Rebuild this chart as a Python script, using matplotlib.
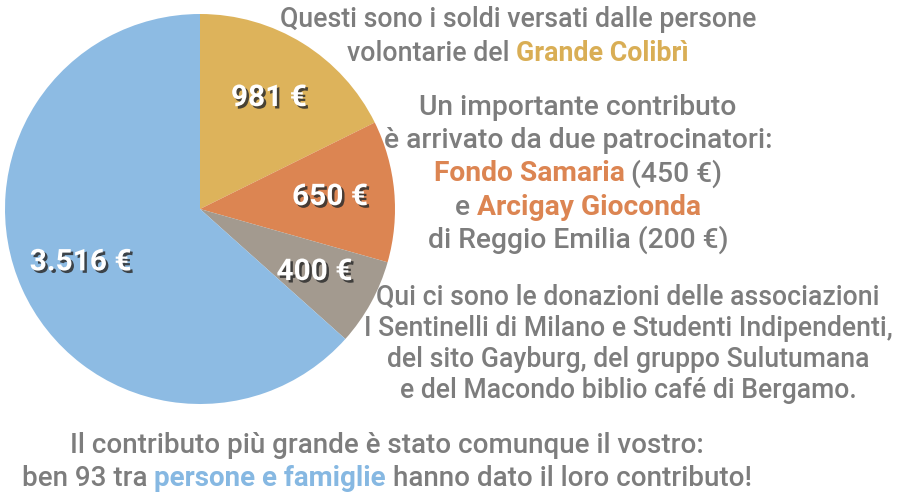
import matplotlib
matplotlib.use("Agg")
import matplotlib.pyplot as plt
import matplotlib.patheffects as pe
import numpy as np

# valori delle fette (euro)
values = [981, 650, 400, 3516]
value_labels = ["981 €", "650 €", "400 €", "3.516 €"]
slice_colors = ["#DDB35B", "#DC8552", "#A39A8F", "#8DBBE3"]

GREY = "#7d7d7d"
GOLD = "#D9AE55"
ORANGE = "#DC8552"
BLUE = "#86B8E2"

# righe di testo: lista di pezzi (testo, colore, grassetto)
block_volontari = [
    [("Questi sono i soldi versati dalle persone", GREY, False)],
    [("volontarie del", GREY, False), ("Grande Colibrì", GOLD, True)],
]
block_patrocinatori = [
    [("Un importante contributo", GREY, False)],
    [("è arrivato da due patrocinatori:", GREY, False)],
    [("Fondo Samaria", ORANGE, True), ("(450 €)", GREY, False)],
    [("e", GREY, False), ("Arcigay Gioconda", ORANGE, True)],
    [("di Reggio Emilia (200 €)", GREY, False)],
]
block_associazioni = [
    [("Qui ci sono le donazioni delle associazioni", GREY, False)],
    [("I Sentinelli di Milano e Studenti Indipendenti,", GREY, False)],
    [("del sito Gayburg, del gruppo Sulutumana", GREY, False)],
    [("e del Macondo biblio café di Bergamo.", GREY, False)],
]
block_persone = [
    [("Il contributo più grande è stato comunque il vostro:", GREY, False)],
    [("ben 93 tra", GREY, False), ("persone e famiglie", BLUE, True),
     ("hanno dato il loro contributo!", GREY, False)],
]

FONT = ["Roboto", "DejaVu Sans"]
W, H = 900, 499

fig = plt.figure(figsize=(9, 4.99), dpi=100)
fig.patch.set_facecolor("white")

# torta: centro (200, 209) px, raggio 195 px
cx, cy, r = 200, 209, 195
ax = fig.add_axes([(cx - r) / W, (H - cy - r) / H, 2 * r / W, 2 * r / H])
wedges, _ = ax.pie(values, colors=slice_colors, startangle=90,
                   counterclock=False, radius=1.0,
                   wedgeprops=dict(linewidth=0))
ax.set_aspect("equal")
ax.set_xlim(-1, 1)
ax.set_ylim(-1, 1)
ax.axis("off")

shadow = [pe.withSimplePatchShadow(offset=(1.8, -1.8),
                                   shadow_rgbFace="#2e2e2e", alpha=0.85)]
for w, lab in zip(wedges, value_labels):
    ang = np.deg2rad((w.theta1 + w.theta2) / 2)
    ax.text(0.67 * np.cos(ang), 0.67 * np.sin(ang), lab,
            ha="center", va="center", color="white", fontsize=21.5,
            fontweight="bold", family=FONT, path_effects=shadow)

renderer = fig.canvas.get_renderer()


def text_width(t):
    return t.get_window_extent(renderer=renderer).width


def draw_line(pieces, xc, y, size):
    # y e' la linea di base, in pixel dall'alto
    texts = []
    for s, col, bold in pieces:
        t = fig.text(0, 0, s, color=col, fontsize=size, family=FONT,
                     fontweight="bold" if bold else "medium",
                     ha="left", va="baseline")
        texts.append(t)
    probe = fig.text(0, 0, "a a", fontsize=size, family=FONT)
    probe2 = fig.text(0, 0, "aa", fontsize=size, family=FONT)
    gap = text_width(probe) - text_width(probe2)
    probe.remove()
    probe2.remove()
    widths = [text_width(t) for t in texts]
    total = sum(widths) + gap * (len(texts) - 1)
    x = xc - total / 2
    for t, wd in zip(texts, widths):
        t.set_position((x / W, 1 - y / H))
        x += wd + gap


def draw_block(lines, xc, y0, step, size):
    for i, pieces in enumerate(lines):
        draw_line(pieces, xc, y0 + i * step, size)


draw_block(block_volontari, 518, 27, 34, 19.3)
draw_block(block_patrocinatori, 578, 115, 33.2, 20.3)
draw_block(block_associazioni, 628, 305, 31, 19.2)
draw_block(block_persone, 387, 453, 33.5, 20)

fig.savefig("out.png", dpi=100)
